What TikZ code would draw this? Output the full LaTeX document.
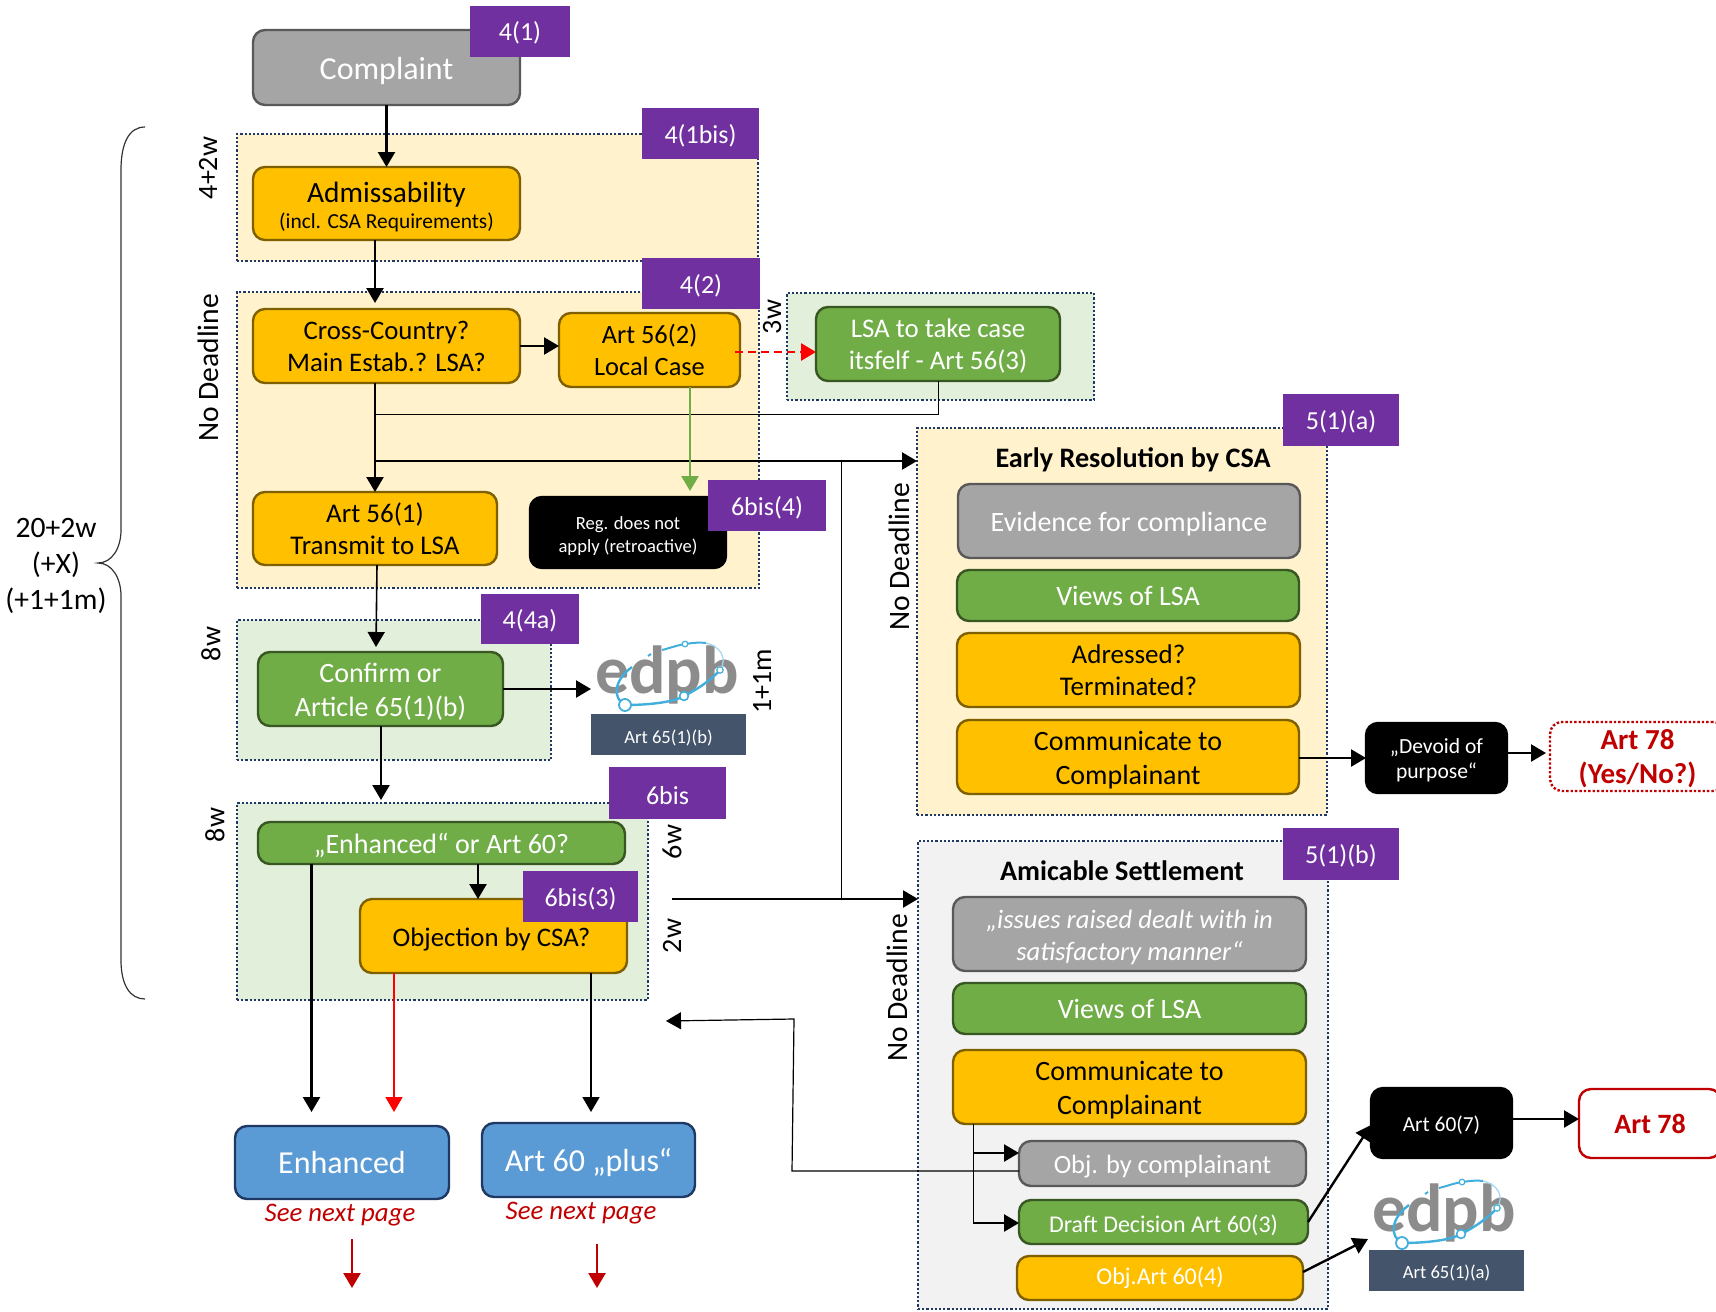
\documentclass[tikz,border=0pt]{standalone}
\usepackage{fontspec}
\setmainfont{Carlito}
\usetikzlibrary{arrows.meta}
\definecolor{cgrey}{HTML}{A5A5A5}\definecolor{cgreyb}{HTML}{595959}
\definecolor{corange}{HTML}{FFC000}\definecolor{corangeb}{HTML}{7F6000}
\definecolor{cgreen}{HTML}{70AD47}\definecolor{cgreenb}{HTML}{385723}
\definecolor{cblue}{HTML}{5B9BD5}\definecolor{cblueb}{HTML}{1F3864}
\definecolor{cpurple}{HTML}{7030A0}\definecolor{cslate}{HTML}{44546A}
\definecolor{ccream}{HTML}{FFF2CC}\definecolor{cpale}{HTML}{E2EFDA}
\definecolor{clight}{HTML}{F2F2F2}\definecolor{cdot}{HTML}{1F3864}
\definecolor{cdred}{HTML}{C00000}\definecolor{cblogo}{HTML}{41AEDC}
\definecolor{clogotext}{HTML}{8C8C8C}
\newcommand{\fsz}[2]{\fontsize{#1}{#2}\selectfont}
% box node with a separate text node, lowered by the optional amount in pt
\newcommand{\bx}[8][1.6]{\node[#2,minimum width={(#6-#4)*0.5pt},minimum height={(#7-#5)*0.5pt}] (#3) at ({(#4+#6)/2},{(#5+#7)/2}) {};
  \node[#2,draw=none,fill=none,rounded corners=0pt] (#3-t) at ([yshift=-#1pt]#3.center) {#8};}
\newcommand{\gp}[6]{\node[#1,minimum width={(#5-#3)*0.5pt},minimum height={(#6-#4)*0.5pt}] (#2) at ({(#3+#5)/2},{(#4+#6)/2}) {};}
\tikzset{
  base/.style={inner sep=0pt,outer sep=0pt,align=center,rounded corners=6pt,line width=1.2pt},
  ybox/.style={base,draw=corangeb,fill=corange,text=black},
  ggbox/.style={base,draw=cgreenb,fill=cgreen,text=white},
  gybox/.style={base,draw=cgreyb,fill=cgrey,text=white},
  blbox/.style={base,draw=cblueb,fill=cblue,text=white},
  blackbox/.style={base,draw=black,fill=black,text=white},
  purp/.style={inner sep=0pt,outer sep=0pt,fill=cpurple,text=white,font=\fsz{13}{16}},
  slate/.style={inner sep=0pt,outer sep=0pt,fill=cslate,text=white,font=\fsz{9.3}{11}},
  grp/.style={inner sep=0pt,outer sep=0pt,draw=cdot,densely dotted,line width=1.1pt},
  rlab/.style={inner sep=0pt,font=\fsz{14}{16},rotate=90},
  rlabl/.style={inner sep=0pt,font=\fsz{14.8}{16},rotate=90},
  arr/.style={line width=1.2pt,-{Triangle[length=7.5pt,width=8.5pt]}},
  arrthin/.style={line width=0.8pt,-{Triangle[length=7.5pt,width=8.5pt]}},
  thinl/.style={line width=0.5pt},
  logotxt/.style={inner sep=0pt,text=clogotext,font=\fontsize{34}{34}\selectfont\bfseries},
  pics/edpblogo/.style={code={
    \node[logotxt,anchor=base] (-t) at (97,73) {edpb};
    \draw[cblogo,line width=1.2pt] (55,85) .. controls (80,85) and (104,82) .. (114,76) .. controls (130,68) and (143,58) .. (150,50);
    \draw[cblogo,line width=1.2pt] (55,85) .. controls (42,78) and (44,60) .. (62,47);
    \draw[cblogo,line width=1pt] (78,36) -- (81,34) (92,30) .. controls (100,28) and (108,25) .. (115,24) .. controls (122,23) and (130,22) .. (136,23);
    \draw[cblogo!50,line width=0.6pt] (136,23) .. controls (150,26) and (158,38) .. (150,50);
    \draw[cblogo,fill=white,line width=0.9pt] (55,85) circle (3pt);
    \draw[cblogo,fill=white,line width=0.8pt] (114,76) circle (2.2pt);
    \draw[cblogo,fill=white,line width=0.6pt] (150,50) circle (1.6pt);
    \draw[cblogo,fill=white,line width=0.6pt] (115,24) circle (1.4pt);
  }}
}
\begin{document}
\begin{tikzpicture}[x=0.5pt,y=-0.5pt]
\path[use as bounding box,clip] (0,0) rectangle (1716,1311);
% groups
\gp{grp,fill=ccream}{g1}{237}{134}{758}{261}
\gp{grp,fill=ccream}{g2}{237}{292}{759}{588}
\gp{grp,fill=cpale}{glsa}{787}{293}{1094}{400}
\gp{grp,fill=cpale}{g3}{237}{620}{551}{760}
\gp{grp,fill=cpale}{g4}{237}{803}{648}{1000}
\gp{grp,fill=ccream}{early}{917}{428}{1327}{815}
\gp{grp,fill=clight}{amic}{918}{841}{1328}{1309}
% left column
\bx{gybox,font=\fsz{16}{18}}{complaint}{253}{30}{520}{105}{Complaint}
\bx{ybox}{admiss}{253}{167}{520}{240}{{\fsz{14.7}{16}Admissability}\\[1pt]{\fsz{10.7}{12}(incl. CSA Requirements)}}
\bx[0]{ybox,font=\fsz{13.4}{16}}{cross}{253}{309}{520}{383}{Cross-Country?\\Main Estab.? LSA?}
\bx[0]{ybox,font=\fsz{13.2}{16}}{art562}{559}{313}{740}{387}{Art 56(2)\\Local Case}
\bx[1.1]{ggbox,font=\fsz{13.45}{16}}{lsa}{816}{307}{1060}{381}{LSA to take case\\itsfelf - Art 56(3)}
\bx[0]{ybox,font=\fsz{13.5}{16}}{art561}{253}{492}{497}{565}{Art 56(1)\\Transmit to LSA}
\bx{blackbox,font=\fsz{9.3}{11.5}}{reg}{530}{497}{726}{568}{Reg. does not\\apply (retroactive)}
\bx{ggbox,font=\fsz{14}{17}}{confirm}{258}{652}{503}{726}{Confirm or\\Article 65(1)(b)}
\bx[1.1]{ggbox,font=\fsz{14}{16}}{enhq}{258}{822}{625}{864}{„Enhanced“ or Art 60?}
\bx{ybox,font=\fsz{13.4}{16}}{objcsa}{360}{899}{627}{973}{\hspace*{-2pt}Objection by CSA?}
\bx[0]{blbox,font=\fsz{16}{18}}{enh}{235}{1126}{449}{1199}{Enhanced}
\bx[1.1]{blbox,font=\fsz{16}{18}}{plus}{482}{1123}{695}{1197}{Art 60 „plus“}
\node[inner sep=0pt,text=cdred,font=\fsz{13.4}{16}\itshape] (see1) at (340,1215) {See next page};
\node[inner sep=0pt,text=cdred,font=\fsz{13.4}{16}\itshape] (see2) at (581,1213) {See next page};
% early resolution
\node[inner sep=0pt,font=\fsz{14.1}{16}\bfseries] (earlyt) at (1133,460) {Early Resolution by CSA};
\bx{gybox,font=\fsz{14}{17}}{evid}{958}{484}{1300}{558}{Evidence for compliance}
\bx[0]{ggbox,font=\fsz{14}{17}}{views1}{957}{570}{1299}{621}{Views of LSA}
\bx[0]{ybox,font=\fsz{13.5}{16}}{addr}{957}{633}{1300}{707}{Adressed?\\Terminated?}
\bx{ybox,font=\fsz{14}{17}}{comm1}{957}{720}{1299}{794}{Communicate to\\Complainant}
\bx[1]{blackbox,font=\fsz{10.8}{12.5}}{devoid}{1366}{723}{1507}{793}{„Devoid of\\purpose“}
\bx[1.3]{base,draw=cdred,densely dotted,fill=white,text=cdred,font=\fsz{14.5}{17}\bfseries}{art78a}{1550}{722}{1725}{791}{Art 78\\(Yes/No?)}
% amicable
\node[inner sep=0pt,font=\fsz{14.1}{16}\bfseries] (amict) at (1122,871) {Amicable Settlement};
\bx{gybox,font=\fsz{13.3}{16}\itshape}{issues}{953}{897}{1306}{971}{„issues raised dealt with in\\satisfactory manner“}
\bx[0]{ggbox,font=\fsz{14}{17}}{views2}{953}{983}{1306}{1034}{Views of LSA}
\bx{ybox,font=\fsz{14}{17}}{comm2}{953}{1050}{1306}{1124}{Communicate to\\Complainant}
\bx{gybox,font=\fsz{13.2}{14}}{objc}{1019}{1141}{1306}{1186}{Obj. by complainant}
\bx{ggbox,font=\fsz{12}{14}}{draft}{1019}{1200}{1308}{1244}{Draft Decision Art 60(3)}
\bx[0]{ybox,text=white,font=\fsz{12}{14}}{objart}{1017}{1256}{1303}{1300}{Obj.Art 60(4)}
\bx[1.1]{blackbox,font=\fsz{10.7}{12.5}}{art607}{1371}{1088}{1512}{1158}{Art 60(7)}
\bx[0]{base,draw=cdred,fill=white,text=cdred,font=\fsz{14}{17}\bfseries}{art78b}{1579}{1089}{1721}{1158}{Art 78}
% logos and their captions
\pic (logoa) at (570,620) {edpblogo};
\pic (logob) at (1347,1158) {edpblogo};
\bx{slate}{cap1}{591}{714}{746}{755}{Art 65(1)(b)}
\bx[1.1]{slate}{cap2}{1369}{1250}{1524}{1291}{Art 65(1)(a)}
% helper points
\coordinate (a1) at (375,303);
\coordinate (j2) at (375,414);
\coordinate (j1) at (375,461);
\coordinate (r1) at (735,352);
\coordinate (g1p) at (690,491);
\coordinate (c1) at (376,647);
\coordinate (d1) at (381,800);
\coordinate (e1) at (311.5,1112);
\coordinate (e2) at (478,899);
\coordinate (e3) at (394,1112);
\coordinate (e4) at (591,1112);
\coordinate (n1) at (352,1239);
\coordinate (n1e) at (352,1288);
\coordinate (n2) at (597,1244);
\coordinate (n2e) at (597,1288);
\coordinate (v1) at (841,461);
\coordinate (w1) at (672,899);
\coordinate (b1) at (666,1021);
\coordinate (b2) at (794,1019);
\coordinate (b3) at (792,1171);
\coordinate (t1) at (973,1153);
\coordinate (t2) at (973,1223);
\coordinate (m1) at (1368,1239);
\coordinate (m2) at (1308,1222);
\coordinate (m3) at (1371,1125);
\coordinate (m4) at (1303,1272);
% connectors
\draw[arr] (complaint.south) -- (admiss.north);
\draw[arr] (admiss.south -| a1) -- (a1);
\draw[arr] (cross.east |- 0,346) -- (art562.west |- 0,346);
\draw[red,line width=1.4pt,dash pattern=on 4pt off 2.5pt,-{Triangle[length=7.5pt,width=8.5pt]}] (r1) -- (lsa.west |- r1);
\draw[arr] (cross.south -| a1) -- (art561.north -| a1);
\draw[thinl] (j2) -| (lsa.south);
\draw[arr] (j1) -- (early.west |- j1);
\draw[thinl] (v1) -- (v1 |- w1);
\draw[arr] (w1) -- (amic.west |- w1);
\draw[line width=1.3pt,cgreen,-{Triangle[length=7.5pt,width=8.5pt]}] (art562.south -| g1p) -- (g1p);
\draw[arrthin] (art561.south -| 377,0) -- (c1);
\draw[arr] (confirm.east |- 0,689) -- (591,689);
\draw[arr] (confirm.south -| d1) -- (d1);
\draw[arr] (enhq.south -| e1) -- (e1);
\draw[arr] (enhq.south -| e2) -- (e2);
\draw[arrthin,red] (objcsa.south -| e3) -- (e3);
\draw[arrthin] (objcsa.south -| e4) -- (e4);
\draw[arr,cdred] (n1) -- (n1e);
\draw[arr,cdred] (n2) -- (n2e);
\draw[line width=0.6pt,-{Triangle[length=7.5pt,width=8.5pt]}] (objc.west |- b3) -- (b3) -- (b2) -- (b1);
\draw[thinl] (comm2.south -| t1) -- (t2);
\draw[arr] (t1) -- (objc.west |- t1);
\draw[arr] (t2) -- (draft.west |- t2);
\draw[arr] (m2) -- (m3);
\draw[arr] (m4) -- (m1);
\draw[arr] (comm1.east |- 0,758) -- (devoid.west |- 0,758);
\draw[arr] (devoid.east |- 0,753) -- (1546,753);
\draw[arr] (art607.east |- 0,1119) -- (art78b.west |- 0,1119);
% rotated labels
\node[rlab] (l1) at (208,168) {4+2w};
\node[rlabl] (l2) at (208,368) {No Deadline};
\node[rlab] (l3) at (772,317) {3w};
\node[rlab] (l4) at (211,644) {8w};
\node[rlab] (l5) at (762,681) {1+1m};
\node[rlab] (l6) at (215,825) {8w};
\node[rlab] (l7) at (672,842) {6w};
\node[rlab] (l8) at (672,936) {2w};
\node[rlabl] (l9) at (899,557) {No Deadline};
\node[rlabl] (l10) at (897,988) {No Deadline};
% brace
\draw[line width=0.6pt,black!80] (145,127) .. controls (128,127) and (121,145) .. (121,170) -- (121,530) .. controls (121,548) and (112,563) .. (98,563) .. controls (112,563) and (121,578) .. (121,596) -- (121,960) .. controls (121,985) and (130,999) .. (145,999);
\node[inner sep=0pt,align=center,font=\fsz{14.8}{17.8}] (total) at (56,566) {20+2w\\(+X)\\(+1+1m)};
% purple tags
\bx[0.6]{purp}{p1}{470}{6}{570}{57}{4(1)}
\bx[1.1]{purp}{p2}{642}{108}{759}{159}{4(1bis)}
\bx[1.1]{purp}{p3}{642}{258}{760}{309}{4(2)}
\bx[1.1]{purp}{p4}{708}{480}{826}{531}{6bis(4)}
\bx[1.1]{purp}{p5}{481}{594}{579}{644}{4(4a)}
\bx[1.1]{purp}{p6}{609}{767}{726}{819}{6bis}
\bx[1.1]{purp}{p7}{523}{871}{638}{922}{6bis(3)}
\bx[1.1]{purp}{p8}{1283}{394}{1399}{446}{5(1)(a)}
\bx[1.1]{purp}{p9}{1283}{828}{1399}{880}{5(1)(b)}
\end{tikzpicture}
\end{document}
